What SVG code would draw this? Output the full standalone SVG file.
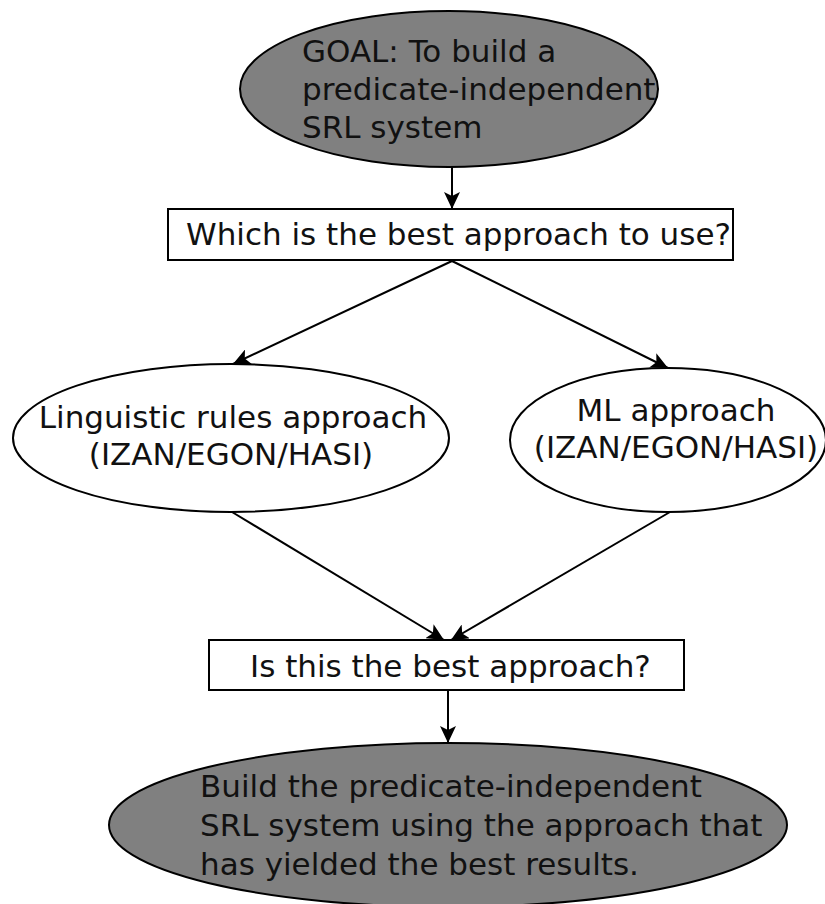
<svg xmlns="http://www.w3.org/2000/svg" width="825" height="904" viewBox="0 0 825 904">
  <style>
    .shape { stroke: #000; stroke-width: 2; }
    .dark { fill: #808080; }
    .light { fill: #fff; }
    .label { font-family: "DejaVu Sans", "Liberation Sans", sans-serif; font-size: 31px; fill: #111; }
    .mid { text-anchor: middle; }
    .edge { stroke: #000; stroke-width: 2; fill: none; marker-end: url(#arrow); }
  </style>
  <defs>
    <marker id="arrow" markerUnits="userSpaceOnUse" markerWidth="18" markerHeight="16" viewBox="0 0 18 16" refX="17" refY="8" orient="auto">
      <path d="M0,0 L17,8 L0,16 L4,8 Z" fill="#000"/>
    </marker>
  </defs>

  <rect width="825" height="904" fill="#fff"/>

  <!-- connectors -->
  <g id="connectors">
    <line class="edge" x1="452" y1="167" x2="452" y2="209"/>
    <line class="edge" x1="452" y1="261" x2="233" y2="364"/>
    <line class="edge" x1="452" y1="261" x2="668" y2="368"/>
    <line class="edge" x1="232" y1="512" x2="444" y2="640"/>
    <line class="edge" x1="670" y1="512" x2="451" y2="640"/>
    <line class="edge" x1="448" y1="690" x2="448" y2="743"/>
  </g>

  <!-- goal -->
  <g id="goal">
    <ellipse class="shape dark" cx="449" cy="89" rx="209" ry="78"/>
    <text class="label" x="302" y="62">GOAL: To build a</text>
    <text class="label" x="302" y="100">predicate-independent</text>
    <text class="label" x="302" y="138">SRL system</text>
  </g>

  <!-- question: which approach -->
  <g id="which-approach">
    <rect class="shape light" x="168" y="209" width="565" height="51"/>
    <text class="label" x="186" y="245">Which is the best approach to use?</text>
  </g>

  <!-- rule-based approach -->
  <g id="rules-approach">
    <ellipse class="shape light" cx="231" cy="438" rx="218" ry="74"/>
    <text class="label mid" x="233" y="428">Linguistic rules approach</text>
    <text class="label mid" x="231" y="465">(IZAN/EGON/HASI)</text>
  </g>

  <!-- machine learning approach -->
  <g id="ml-approach">
    <ellipse class="shape light" cx="668" cy="440" rx="158" ry="72"/>
    <text class="label mid" x="676" y="421">ML approach</text>
    <text class="label mid" x="676" y="458">(IZAN/EGON/HASI)</text>
  </g>

  <!-- question: best approach -->
  <g id="best-approach">
    <rect class="shape light" x="209" y="640" width="475" height="50"/>
    <text class="label" x="250" y="677">Is this the best approach?</text>
  </g>

  <!-- final step -->
  <g id="build-system">
    <ellipse class="shape dark" cx="448" cy="825" rx="339" ry="82"/>
    <text class="label" x="200" y="797">Build the predicate-independent</text>
    <text class="label" x="200" y="836">SRL system using the approach that</text>
    <text class="label" x="200" y="875">has yielded the best results.</text>
  </g>
</svg>
